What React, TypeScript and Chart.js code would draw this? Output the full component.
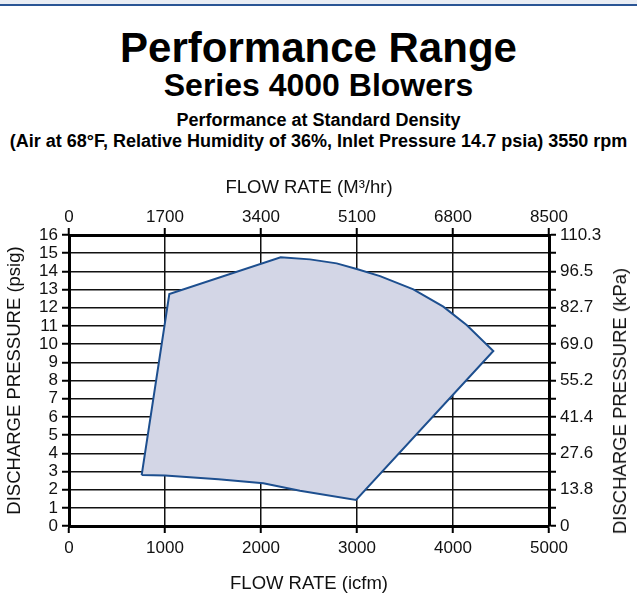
import React, { useEffect, useRef } from "react";
import { Chart, registerables } from "chart.js";

Chart.register(...registerables);

// Envelope of the performance range (icfm vs psig), traced clockwise
const envelopeFlowIcfm = [757, 1045, 2205, 2510, 2788, 2997, 3240, 3587, 3899, 4142, 4420, 2990, 2406, 2024, 1556, 1000, 757];
const envelopePressurePsig = [2.8, 12.75, 14.77, 14.66, 14.44, 14.13, 13.74, 13.01, 12.06, 11.05, 9.62, 1.43, 1.94, 2.35, 2.57, 2.77, 2.8];

// Axis ticks
const flowIcfmTicks = [0, 1000, 2000, 3000, 4000, 5000];
const flowM3hrTicks = [0, 1700, 3400, 5100, 6800, 8500];
const psigTicks = [0, 1, 2, 3, 4, 5, 6, 7, 8, 9, 10, 11, 12, 13, 14, 15, 16];
const kpaTickLabels = ["0", "13.8", "27.6", "41.4", "55.2", "69.0", "82.7", "96.5", "110.3"];

const FONT = "'Liberation Sans', Arial, Helvetica, sans-serif";

export default function App() {
  const canvasRef = useRef<HTMLCanvasElement | null>(null);

  useEffect(() => {
    const canvas = canvasRef.current;
    if (!canvas) return;
    const data = envelopeFlowIcfm.map((x, i) => ({ x, y: envelopePressurePsig[i] }));
    const tickFont = { family: FONT, size: 17 };
    const titleFont = { family: FONT, size: 18.5 };
    const plain = (v: any) => String(v);
    const gridCommon = {
      color: "#111",
      lineWidth: 1.5,
      tickLength: 7,
      tickColor: "#000",
      tickWidth: 2,
    };
    const border = { color: "#000", width: 3 };
    const chart = new Chart(canvas, {
      type: "scatter",
      data: {
        datasets: [
          {
            data,
            showLine: true,
            fill: "shape",
            backgroundColor: "#d3d6e6",
            borderColor: "#1d4f8f",
            borderWidth: 2,
            pointRadius: 0,
            tension: 0,
          } as any,
        ],
      },
      options: {
        animation: false,
        responsive: false,
        maintainAspectRatio: false,
        layout: { padding: { top: 173, bottom: 11, left: 0, right: 0 } },
        plugins: { legend: { display: false }, tooltip: { enabled: false } },
        scales: {
          x: {
            type: "linear",
            position: "bottom",
            min: 0,
            max: 5000,
            z: 1,
            afterBuildTicks: (s: any) => { s.ticks = flowIcfmTicks.map((v) => ({ value: v })); },
            afterFit: (s: any) => { s.height = 73; },
            ticks: { font: tickFont, color: "#111", padding: 5, maxRotation: 0, autoSkip: false, callback: plain },
            grid: gridCommon,
            border,
            title: { display: true, text: "FLOW RATE (icfm)", font: titleFont, color: "#111" },
          },
          x2: {
            type: "linear",
            position: "top",
            min: 0,
            max: 8500,
            z: 1,
            afterBuildTicks: (s: any) => { s.ticks = flowM3hrTicks.map((v) => ({ value: v })); },
            afterFit: (s: any) => { s.height = 62; },
            ticks: { font: tickFont, color: "#111", padding: 0, maxRotation: 0, autoSkip: false, callback: plain },
            grid: { ...gridCommon, drawOnChartArea: false },
            border,
            title: { display: true, text: "FLOW RATE (M³/hr)", font: titleFont, color: "#111" },
          },
          y: {
            type: "linear",
            position: "left",
            min: 0,
            max: 16,
            z: 1,
            afterBuildTicks: (s: any) => { s.ticks = psigTicks.map((v) => ({ value: v })); },
            afterFit: (s: any) => { s.width = 69; },
            ticks: { font: tickFont, color: "#111", padding: 4, autoSkip: false, callback: plain },
            grid: gridCommon,
            border,
            title: { display: true, text: "DISCHARGE PRESSURE (psig)", font: titleFont, color: "#111" },
          },
          y2: {
            type: "linear",
            position: "right",
            min: 0,
            max: 16,
            z: 1,
            afterBuildTicks: (s: any) => { s.ticks = psigTicks.map((v) => ({ value: v })); },
            afterFit: (s: any) => { s.width = 88; },
            ticks: {
              font: tickFont,
              color: "#111",
              padding: 4,
              autoSkip: false,
              callback: (v: any) => (Number(v) % 2 === 0 ? kpaTickLabels[Number(v) / 2] : ""),
            },
            grid: { ...gridCommon, drawOnChartArea: false },
            border,
          },
        },
      } as any,
    });
    return () => chart.destroy();
  }, []);

  const center: React.CSSProperties = {
    position: "absolute",
    left: 0,
    width: 637,
    textAlign: "center",
    fontFamily: FONT,
    fontWeight: "bold",
    color: "#000",
    whiteSpace: "nowrap",
  };

  return (
    <div style={{ position: "absolute", left: 0, top: 0, width: 637, height: 610, background: "#fff", overflow: "hidden" }}>
      <div style={{ position: "absolute", left: 0, top: 0, width: 637, height: 4, background: "#e9edf4" }} />
      <div style={{ position: "absolute", left: 0, top: 4, width: 637, height: 2, background: "#2a5595" }} />
      <div style={{ ...center, top: 27, fontSize: 42, lineHeight: "42px" }}>Performance Range</div>
      <div style={{ ...center, top: 69, fontSize: 32, lineHeight: "32px" }}>Series 4000 Blowers</div>
      <div style={{ ...center, top: 111, fontSize: 18, lineHeight: "18px" }}>Performance at Standard Density</div>
      <div style={{ ...center, top: 132, fontSize: 18, lineHeight: "18px" }}>
        (Air at 68°F, Relative Humidity of 36%, Inlet Pressure 14.7 psia) 3550 rpm
      </div>
      <canvas ref={canvasRef} width={637} height={610} style={{ position: "absolute", left: 0, top: 0 }} />
      <div
        style={{
          position: "absolute",
          left: 620,
          top: 401,
          transform: "translate(-50%, -50%) rotate(-90deg)",
          fontFamily: FONT,
          fontSize: 18.5,
          color: "#111",
          whiteSpace: "nowrap",
        }}
      >
        DISCHARGE PRESSURE (kPa)
      </div>
    </div>
  );
}
